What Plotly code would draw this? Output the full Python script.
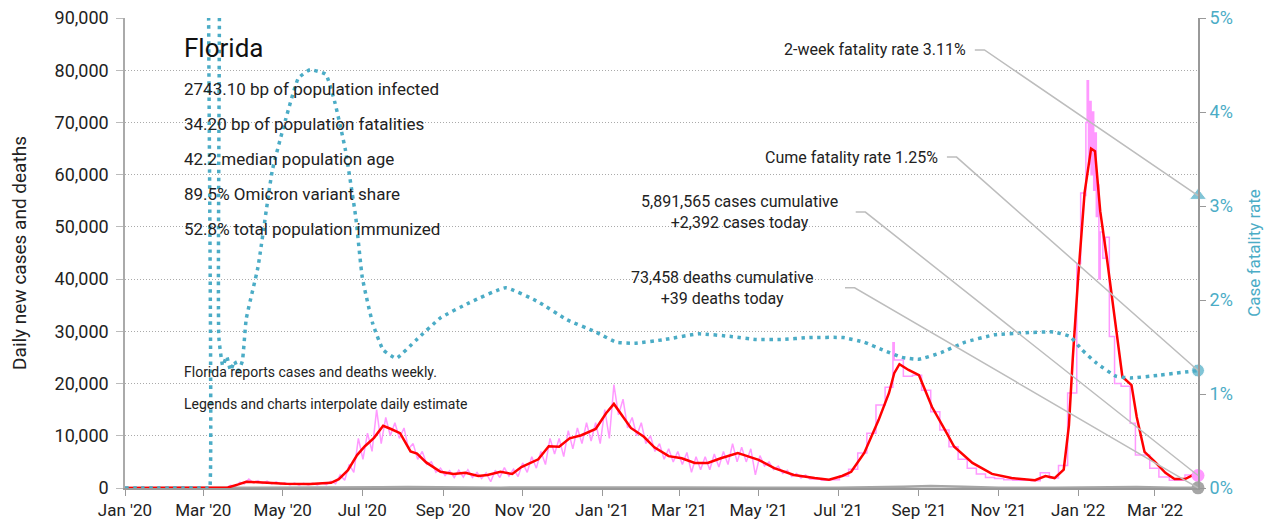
import pandas as pd
import plotly.graph_objects as go

# 7-day average of daily new cases (red line)
avg_dates = [
    "2020-01-01", "2020-03-01", "2020-03-20", "2020-03-28", "2020-04-03", "2020-04-12",
    "2020-05-03", "2020-05-22", "2020-06-07", "2020-06-13", "2020-06-20", "2020-06-27",
    "2020-07-03", "2020-07-10", "2020-07-17", "2020-07-23", "2020-07-30", "2020-08-07",
    "2020-08-12", "2020-08-19", "2020-08-30", "2020-09-09", "2020-09-18", "2020-09-28",
    "2020-10-05", "2020-10-15", "2020-10-24", "2020-10-31", "2020-11-13", "2020-11-21",
    "2020-11-29", "2020-12-07", "2020-12-16", "2020-12-27", "2021-01-04", "2021-01-10",
    "2021-01-15", "2021-01-23", "2021-02-02", "2021-02-10", "2021-02-21", "2021-03-03",
    "2021-03-13", "2021-03-23", "2021-04-02", "2021-04-15", "2021-04-20", "2021-05-01",
    "2021-05-13", "2021-05-28", "2021-06-13", "2021-06-24", "2021-07-04", "2021-07-11",
    "2021-07-21", "2021-08-01", "2021-08-09", "2021-08-13", "2021-08-17", "2021-08-24",
    "2021-09-01", "2021-09-11", "2021-09-21", "2021-09-28", "2021-10-12", "2021-10-27",
    "2021-11-11", "2021-11-29", "2021-12-07", "2021-12-14", "2021-12-21", "2021-12-25",
    "2021-12-28", "2022-01-01", "2022-01-06", "2022-01-11", "2022-01-14", "2022-01-18",
    "2022-01-23", "2022-01-29", "2022-02-04", "2022-02-11", "2022-02-15", "2022-02-21",
    "2022-03-01", "2022-03-09", "2022-03-16", "2022-03-24", "2022-04-01", "2022-04-03",
]
avg_cases = [
    0, 0, 100, 700, 1200, 1100,
    800, 750, 1000, 1700, 3400, 6300,
    8000, 9600, 11900, 11300, 10500, 7000,
    6600, 4900, 3100, 2700, 2900, 2300,
    2500, 3100, 2700, 4000, 5500, 8000,
    7900, 9500, 10100, 11300, 14300, 16100,
    14300, 11500, 9800, 7800, 6100, 5700,
    4800, 4800, 5700, 6700, 6300, 5400,
    3800, 2500, 1900, 1600, 2300, 3100,
    6700, 13000, 18200, 22000, 23700, 22600,
    21600, 15500, 11100, 7900, 4800, 2700,
    1900, 1500, 2300, 1900, 3500, 12000,
    25000, 40000, 56500, 65000, 64500, 53000,
    44200, 32200, 21300, 19700, 13600, 6900,
    5000, 2900, 1700, 1700, 2700, 2500,
]

# daily reported cases Mar 2020 - Jun 2021: weekly highs and mid-week lows (pink)
zig_start = "2020-03-01"
zig_hi = [
    0, 20, 60, 500, 1100, 1700, 1400, 1300, 1200, 1000, 950, 900, 900, 1000, 1300,
    2500, 4500, 9500, 10500, 15000, 13500, 12500, 11500, 8500, 7000, 5000, 3800,
    3300, 3400, 3500, 3000, 2900, 3400, 3900, 3600, 4800, 6000, 7000, 9500, 9500,
    11000, 11500, 12500, 12500, 15000, 19800, 17000, 13500, 12500, 10000, 8500,
    7500, 7000, 6800, 6000, 6000, 6500, 7000, 8500, 7800, 7500, 6200, 5000, 4200,
    3400, 2800, 2500,
]
zig_lo = [
    0, 10, 30, 250, 800, 1000, 900, 800, 700, 600, 550, 600, 600, 650, 800,
    1500, 3000, 5500, 7000, 8500, 10000, 9500, 7500, 5500, 4500, 3000, 2400,
    2000, 2100, 2000, 1800, 1200, 2000, 2300, 2200, 3000, 3800, 4500, 6500, 6000,
    7500, 8500, 9000, 8500, 9500, 14000, 11500, 10000, 8500, 7000, 5500,
    5000, 4500, 3000, 3500, 3500, 4000, 4500, 5000, 5000, 2500, 4200, 3500, 2800,
    2200, 1900, 1700,
]

# weekly-reported cases from Jun 2021, spread as daily estimates (pink steps)
step_dates = [
    "2021-06-09", "2021-06-11", "2021-06-18", "2021-06-25", "2021-07-02", "2021-07-09",
    "2021-07-16", "2021-07-23", "2021-07-30", "2021-08-06", "2021-08-12", "2021-08-13",
    "2021-08-20", "2021-08-27", "2021-09-03", "2021-09-10", "2021-09-17", "2021-09-24",
    "2021-10-01", "2021-10-08", "2021-10-15", "2021-10-22", "2021-10-29", "2021-11-05",
    "2021-11-12", "2021-11-19", "2021-11-26", "2021-12-03", "2021-12-10", "2021-12-17",
    "2021-12-24", "2021-12-31", "2022-01-03", "2022-01-06", "2022-01-07", "2022-01-08",
    "2022-01-09", "2022-01-10", "2022-01-11", "2022-01-12", "2022-01-13", "2022-01-14",
    "2022-01-15", "2022-01-16", "2022-01-17", "2022-01-18", "2022-01-20", "2022-01-22",
    "2022-01-25", "2022-01-29", "2022-02-03", "2022-02-10", "2022-02-14", "2022-02-25",
    "2022-03-04", "2022-03-12", "2022-03-24", "2022-04-03",
]
step_cases = [
    1700, 1700, 1500, 1600, 2300, 3600,
    6700, 10500, 15900, 19300, 27800, 24500,
    21400, 21600, 18700, 14600, 11100, 7900,
    5500, 3800, 2700, 2000, 1800, 1600,
    1500, 1500, 1400, 2900, 1900, 4300,
    18200, 43000, 56500, 56000, 70000, 78000,
    62000, 74000, 60000, 72000, 57000, 68000,
    52000, 58000, 40000, 49000, 44000, 48000,
    29000, 20000, 19500, 12400, 6300, 3800,
    2100, 1500, 2500, 2500,
]

# daily new deaths (grey)
death_dates = [
    "2020-01-01", "2020-03-20", "2020-04-15", "2020-06-01", "2020-07-15", "2020-08-05",
    "2020-09-01", "2020-10-15", "2020-12-01", "2021-01-20", "2021-03-01", "2021-05-01",
    "2021-07-01", "2021-08-20", "2021-09-10", "2021-10-05", "2021-11-01", "2021-12-15",
    "2022-01-25", "2022-02-15", "2022-03-15", "2022-04-03",
]
deaths = [
    0, 5, 50, 40, 120, 180,
    120, 70, 80, 160, 100, 60,
    40, 250, 380, 250, 60, 30,
    150, 180, 60, 39,
]

# case fatality rate, % (blue dotted, right axis)
cfr_dates = [
    "2020-01-01", "2020-03-05", "2020-03-06", "2020-03-07", "2020-03-11", "2020-03-13",
    "2020-03-16", "2020-03-19", "2020-03-22", "2020-03-25", "2020-03-28", "2020-03-31",
    "2020-04-03", "2020-04-12", "2020-04-23", "2020-05-03", "2020-05-13", "2020-05-22",
    "2020-06-03", "2020-06-10", "2020-06-18", "2020-06-26", "2020-07-01", "2020-07-09",
    "2020-07-17", "2020-07-27", "2020-08-11", "2020-08-30", "2020-09-21", "2020-10-19",
    "2020-11-13", "2020-12-05", "2020-12-27", "2021-01-12", "2021-01-26", "2021-02-18",
    "2021-03-16", "2021-04-11", "2021-04-29", "2021-05-18", "2021-06-09", "2021-07-05",
    "2021-07-21", "2021-08-04", "2021-08-19", "2021-09-01", "2021-09-18", "2021-10-06",
    "2021-10-29", "2021-11-20", "2021-12-13", "2021-12-26", "2022-01-04", "2022-01-15",
    "2022-01-30", "2022-02-10", "2022-03-04", "2022-04-03",
]
cfr_pct = [
    0, 0, 0, 9, 9, 1.6,
    1.3, 1.4, 1.25, 1.35, 1.25, 1.35,
    1.8, 2.35, 3.38, 3.91, 4.36, 4.45,
    4.4, 4.1, 3.6, 2.88, 2.24, 1.75,
    1.47, 1.38, 1.57, 1.81, 1.97, 2.13,
    1.98, 1.79, 1.66, 1.55, 1.54, 1.58,
    1.64, 1.61, 1.58, 1.58, 1.6, 1.6,
    1.55, 1.47, 1.39, 1.37, 1.44, 1.55,
    1.63, 1.65, 1.66, 1.61, 1.47, 1.33,
    1.19, 1.17, 1.2, 1.25,
]

last_day = "2022-04-03"
cfr_two_week = 3.11
cfr_cume = 1.25
cases_cum, cases_today = 5891565, 2392
deaths_cum, deaths_today = 73458, 39

Y_MAX = 90000
Y2_MAX = 5

FONT = "Roboto, Liberation Sans, sans-serif"
TEAL = "#4bacc6"
PINK = "#ff99ff"
GREY = "#a6a6a6"
INK = "#222222"

# interleave weekly highs and lows into one zigzag series
hi_x = pd.date_range(zig_start, periods=len(zig_hi), freq="7D")
lo_x = hi_x + pd.Timedelta(hours=84)
zig = pd.concat([pd.Series(zig_hi, index=hi_x), pd.Series(zig_lo, index=lo_x)]).sort_index()

fig = go.Figure()
fig.add_trace(go.Scatter(x=zig.index, y=zig.values, mode="lines",
                         line=dict(color=PINK, width=1.5)))
fig.add_trace(go.Scatter(x=step_dates, y=step_cases, mode="lines",
                         line=dict(color=PINK, width=1.5, shape="hv")))
fig.add_trace(go.Scatter(x=death_dates, y=deaths, mode="lines",
                         line=dict(color=GREY, width=2.5)))
fig.add_trace(go.Scatter(x=avg_dates, y=avg_cases, mode="lines",
                         line=dict(color="#ff0000", width=2.5)))
fig.add_trace(go.Scatter(x=cfr_dates, y=cfr_pct, mode="lines", yaxis="y2",
                         line=dict(color=TEAL, width=3.5, dash="3.5px,4.5px",
                                   shape="spline", smoothing=0.4)))

# end-of-series markers
fig.add_trace(go.Scatter(x=[last_day, last_day], y=[cases_today, deaths_today], mode="markers",
                         marker=dict(color=[PINK, GREY], size=13), cliponaxis=False))
fig.add_trace(go.Scatter(x=[last_day, last_day], y=[cfr_two_week, cfr_cume], mode="markers",
                         yaxis="y2", cliponaxis=False,
                         marker=dict(color=TEAL, size=[15, 13],
                                     symbol=["triangle-up", "circle"])))

# labels with leader lines to the end markers
labels = [
    (f"2-week fatality rate {cfr_two_week:.2f}%", 0.786, 0.932, "right", cfr_two_week / Y2_MAX),
    (f"Cume fatality rate {cfr_cume:.2f}%", 0.760, 0.704, "right", cfr_cume / Y2_MAX),
    (f"{cases_cum:,} cases cumulative<br>+{cases_today:,} cases today",
     0.573, 0.587, "center", cases_today / Y_MAX),
    (f"{deaths_cum:,} deaths cumulative<br>+{deaths_today} deaths today",
     0.556, 0.426, "center", deaths_today / Y_MAX),
]
line_start = [0.792, 0.766, 0.681, 0.671]
for (txt, x, y, anchor, end_y), x0 in zip(labels, line_start):
    fig.add_annotation(text=txt, x=x, y=y, xref="paper", yref="paper", showarrow=False,
                       xanchor=anchor, yanchor="middle", align="center",
                       font=dict(size=16, color=INK))
    fig.add_shape(type="path", xref="paper", yref="paper",
                  path=f"M {x0} {y} L {x0 + 0.009} {y} L 1 {end_y}",
                  line=dict(color="#bdbdbd", width=1.5))

fig.add_annotation(text="Florida", x=0.053, y=0.936, xref="paper", yref="paper",
                   showarrow=False, xanchor="left", yanchor="middle",
                   font=dict(size=26, color="#111111"))
stats = [
    "2743.10 bp of population infected",
    "34.20 bp of population fatalities",
    "42.2 median population age",
    "89.5% Omicron variant share",
    "52.8% total population immunized",
]
for i, s in enumerate(stats):
    fig.add_annotation(text=s, x=0.053, y=0.848 - i * 0.0745, xref="paper", yref="paper",
                       showarrow=False, xanchor="left", yanchor="middle",
                       font=dict(size=17, color=INK))
notes = ["Florida reports cases and deaths weekly.",
         "Legends and charts interpolate daily estimate"]
for i, s in enumerate(notes):
    fig.add_annotation(text=s, x=0.053, y=0.247 - i * 0.068, xref="paper", yref="paper",
                       showarrow=False, xanchor="left", yanchor="middle",
                       font=dict(size=14, color=INK))

# the page body adds an 8px offset, so margins are shifted to land the plot where it belongs
fig.update_layout(
    width=1284, height=529,
    margin=dict(l=117, r=94, t=10, b=49),
    paper_bgcolor="white", plot_bgcolor="white",
    showlegend=False,
    font=dict(family=FONT, color=INK),
    xaxis=dict(type="date", range=["2020-01-01", last_day], automargin=False,
               tick0="2020-01-01", dtick="M2", tickformat="%b '%y",
               showgrid=False, zeroline=False, ticklabeloverflow="allow",
               showline=True, linecolor="#999999", linewidth=2,
               ticks="outside", ticklen=6, tickcolor="#999999",
               tickfont=dict(size=17, color=INK)),
    yaxis=dict(range=[0, Y_MAX], dtick=10000, tickformat=",", automargin=False,
               showgrid=True, gridcolor="#aaaaaa", griddash="1px,2px", gridwidth=1,
               zeroline=False, showline=True, linecolor="#aaaaaa", linewidth=1.5,
               ticks="outside", ticklen=7, tickcolor="#bbbbbb", ticklabelstandoff=4,
               ticklabeloverflow="allow",
               tickfont=dict(size=18, color=INK),
               title=dict(text="Daily new cases and deaths", font=dict(size=19, color=INK),
                          standoff=27)),
    yaxis2=dict(range=[0, Y2_MAX], dtick=1, ticksuffix="%", overlaying="y", side="right",
                automargin=False, showgrid=False, zeroline=False,
                showline=True, linecolor="#999999", linewidth=2,
                ticks="outside", ticklen=6, tickcolor="#999999",
                ticklabeloverflow="allow",
                tickfont=dict(size=18, color=TEAL),
                title=dict(text="Case fatality rate", font=dict(size=17, color=TEAL),
                           standoff=16)),
)

fig.write_html("out.html")
